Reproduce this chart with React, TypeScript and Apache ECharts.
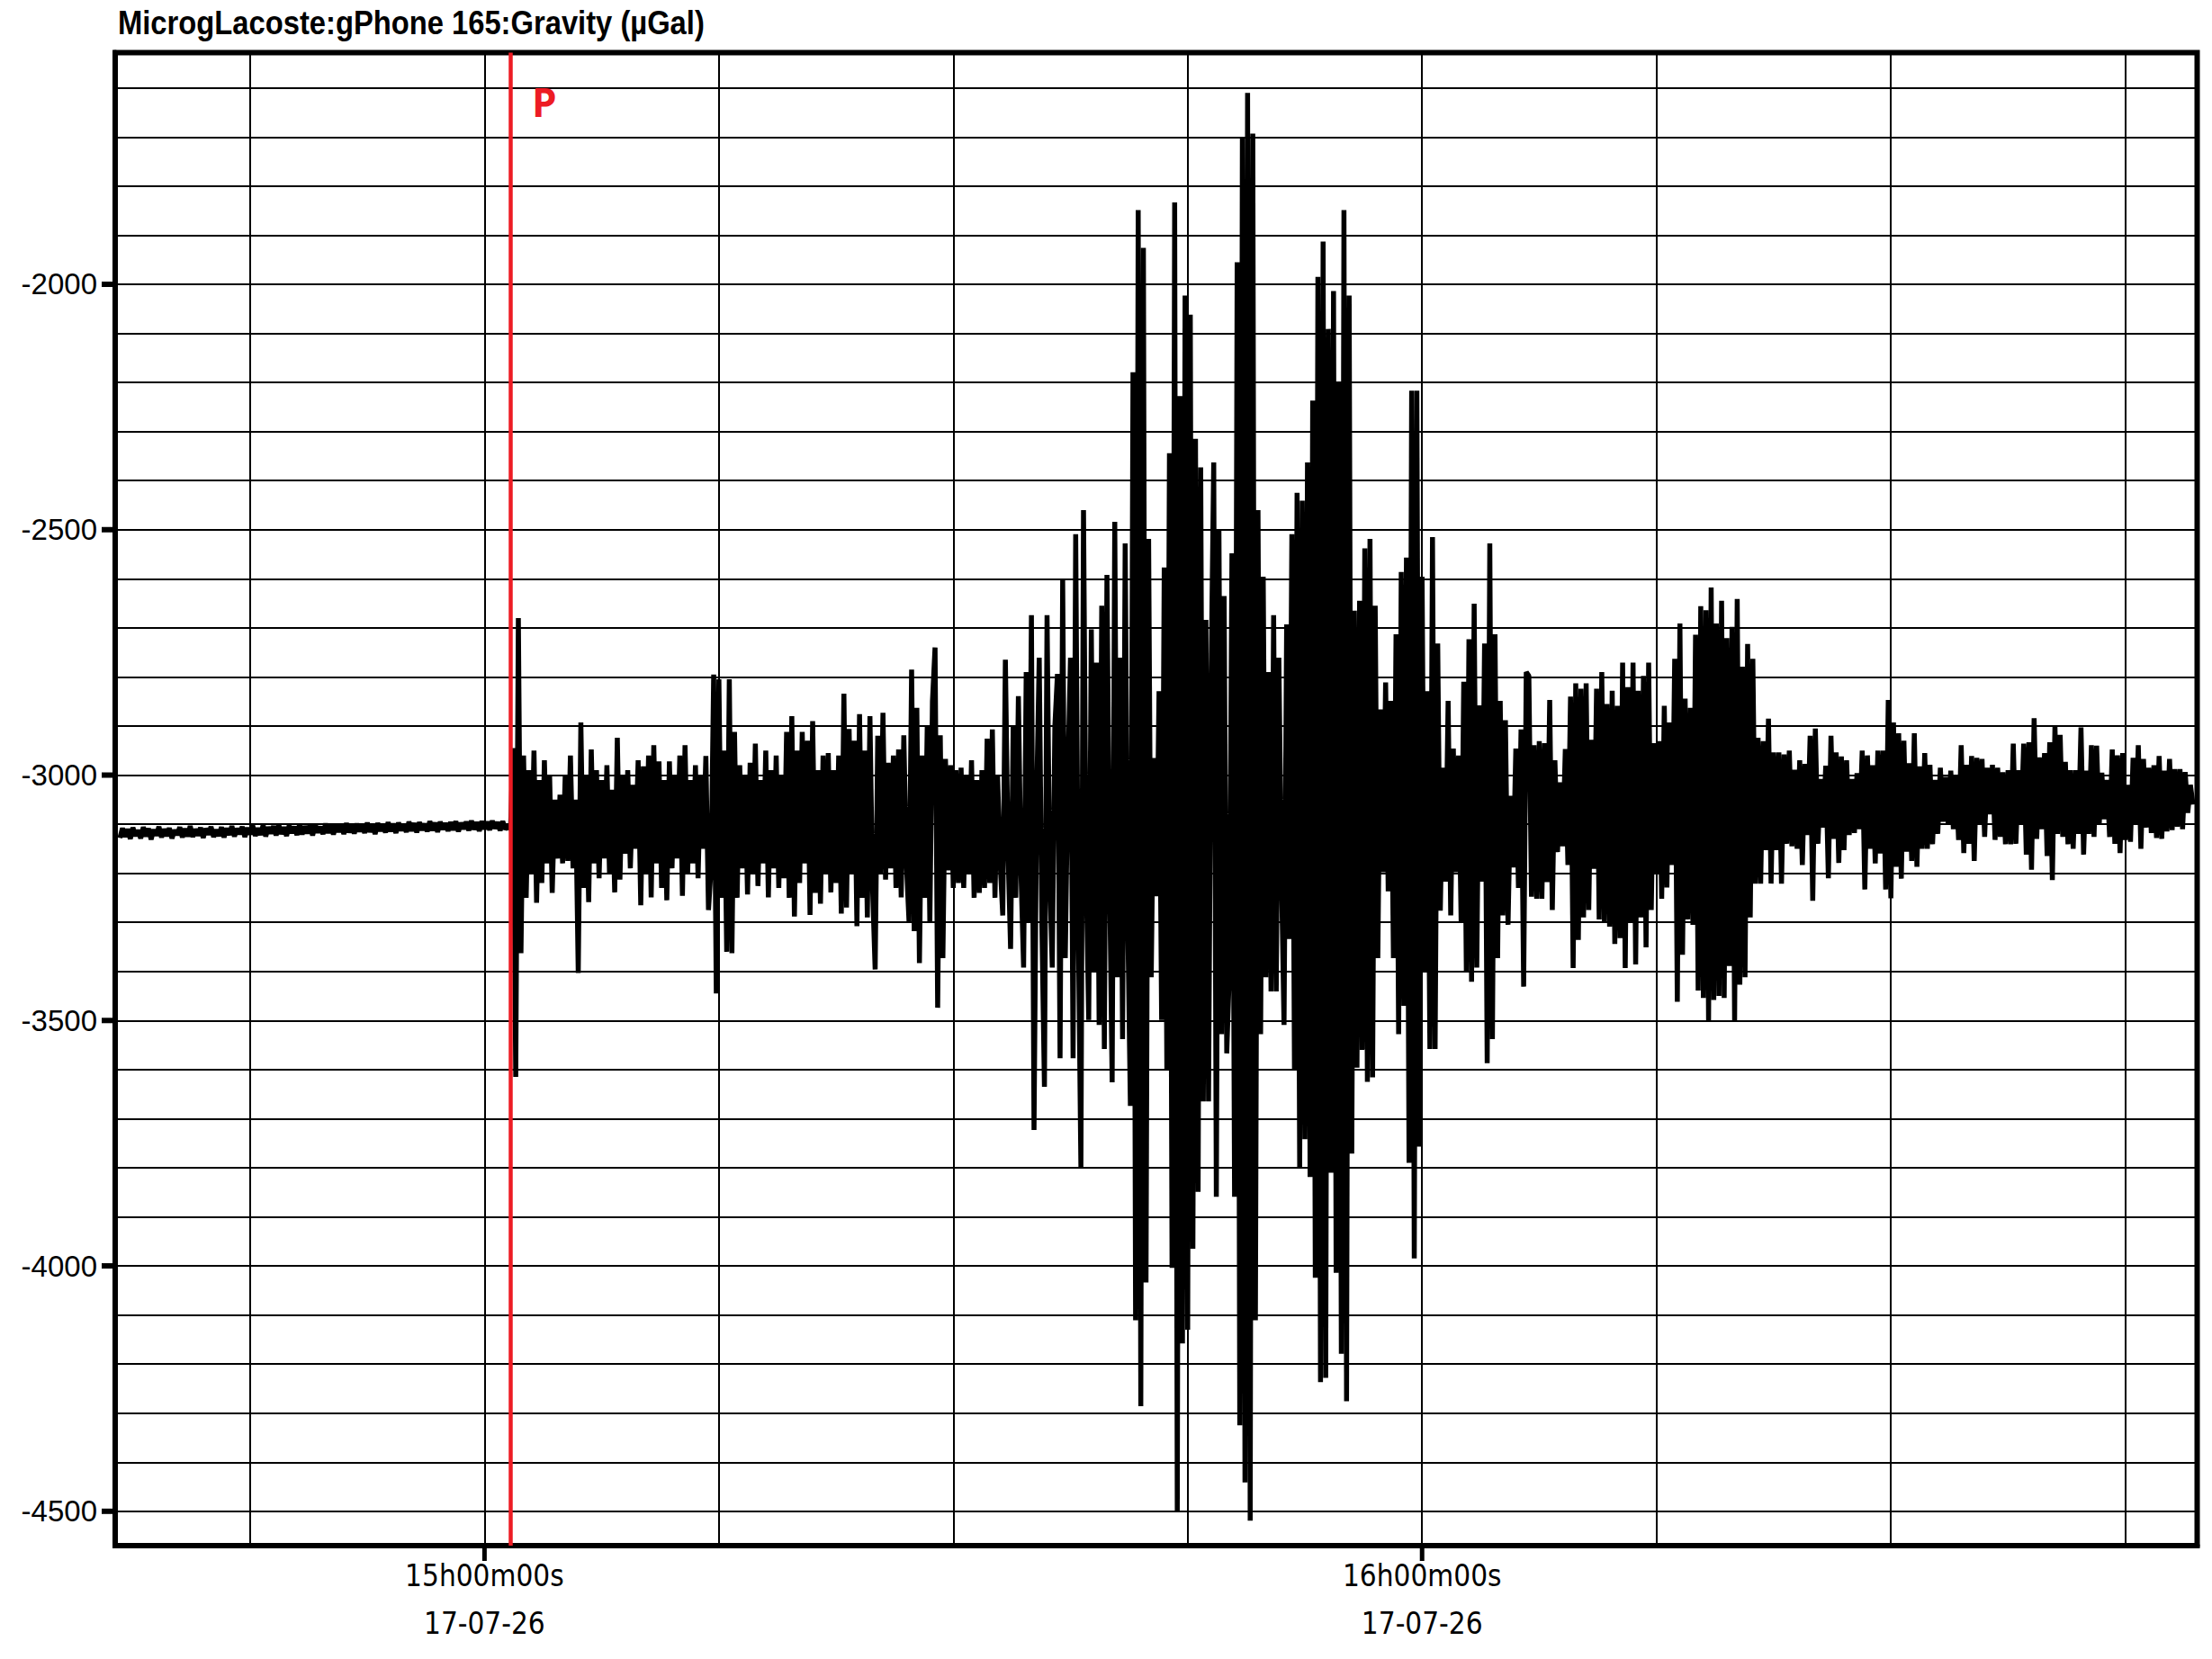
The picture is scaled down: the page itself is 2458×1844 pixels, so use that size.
import React, { useEffect, useRef } from "react";
import * as echarts from "echarts";

// ---------- texts ----------
const TITLE = "MicrogLacoste:gPhone 165:Gravity (µGal)";
const DATE_LABEL = "17-07-26";
const P_LABEL = "P";

// ---------- axes (x in seconds relative to 15h00m00s) ----------
const X_MIN = -1418;
const X_MAX = 6576;
const Y_MIN = -4570;
const Y_MAX = -1528;
const P_TIME = 101;

const xLabelTimes = [0, 3600];
const xLabelTexts = ["15h00m00s", "16h00m00s"];
const yLabelValues = [-4500, -4000, -3500, -3000, -2500, -2000];
const xGridValues = [-900, 0, 900, 1800, 2700, 3600, 4500, 5400, 6300];
const yGridValues = [
  -4500, -4400, -4300, -4200, -4100, -4000, -3900, -3800, -3700, -3600,
  -3500, -3400, -3300, -3200, -3100, -3000, -2900, -2800, -2700, -2600,
  -2500, -2400, -2300, -2200, -2100, -2000, -1900, -1800, -1700, -1600,
];

// ---------- gravity trace (µGal) ----------
const PRE_START = -1400; // s, sampling step 10 s
const PRE_STEP = 10;
const preEventValues = [
  -3128, -3108, -3126, -3110, -3130, -3107, -3124, -3112, -3129, -3106,
  -3125, -3109, -3131, -3111, -3123, -3105, -3127, -3110, -3124, -3108,
  -3129, -3112, -3122, -3106, -3127, -3109, -3125, -3104, -3126, -3110,
  -3123, -3107, -3128, -3109, -3121, -3105, -3126, -3111, -3124, -3106,
  -3127, -3108, -3122, -3104, -3125, -3109, -3120, -3105, -3126, -3107,
  -3121, -3103, -3124, -3108, -3122, -3102, -3125, -3106, -3119, -3104,
  -3123, -3101, -3120, -3106, -3124, -3103, -3118, -3105, -3122, -3100,
  -3121, -3104, -3119, -3102, -3123, -3101, -3117, -3105, -3120, -3099,
  -3118, -3102, -3121, -3100, -3116, -3103, -3120, -3098, -3117, -3101,
  -3119, -3099, -3115, -3102, -3118, -3097, -3116, -3100, -3120, -3098,
  -3114, -3101, -3117, -3096, -3115, -3099, -3118, -3097, -3113, -3100,
  -3116, -3095, -3114, -3098, -3117, -3096, -3112, -3099, -3115, -3094,
  -3113, -3097, -3116, -3095, -3111, -3098, -3114, -3096, -3112, -3094,
  -3115, -3097, -3110, -3095, -3113, -3093, -3111, -3096, -3114, -3094,
  -3110, -3095, -3112, -3093, -3109, -3096, -3113, -3094, -3110, -3105,
];

const EVENT_START = 100; // s, sampling step 10 s
const EVENT_STEP = 10;
const eventValues = [
  -3110, -2945, -3615, -2680, -3363, -2960, -3250, -2990, -3200, -2950,
  -3260, -3010, -3220, -2970, -3180, -3000, -3240, -3050, -3170, -3040,
  -3180, -3000, -3175, -2960, -3190, -3050, -3403, -2893, -3230, -3000,
  -3259, -2948, -3180, -2990, -3210, -3010, -3170, -2980, -3200, -3030,
  -3239, -2924, -3213, -3000, -3160, -2990, -3190, -3020, -3150, -2970,
  -3265, -2982, -3200, -2960, -3249, -2939, -3180, -2972, -3230, -3010,
  -3255, -2972, -3190, -3000, -3170, -2960, -3246, -2939, -3200, -3010,
  -3180, -2980, -3210, -3000, -3150, -2961, -3275, -3190, -2795, -3445,
  -2805, -3250, -2950, -3360, -2805, -3363, -2912, -3250, -2980, -3190,
  -3000, -3243, -2975, -3200, -2936, -3226, -3010, -3180, -2950, -3249,
  -2990, -3190, -2960, -3230, -3000, -3210, -2912, -3250, -2880, -3288,
  -2950, -3220, -2912, -3180, -2930, -3285, -2890, -3240, -2990, -3262,
  -2960, -3200, -2955, -3239, -2990, -3220, -2960, -3282, -2834, -3270,
  -2906, -3200, -2930, -3308, -2876, -3250, -2950, -3290, -2880, -3230,
  -3396, -2920, -3200, -2873, -3213, -2975, -3190, -2960, -3230, -2948,
  -3249, -2919, -3180, -3298, -2785, -3318, -2863, -3383, -2960, -3250,
  -2900, -3300, -2850, -2740, -3474, -2919, -3373, -2967, -3194, -2980,
  -3230, -2990, -3220, -2985, -3230, -3000, -3200, -2970, -3250, -3010,
  -3240, -2990, -3230, -2926, -3220, -2907, -3250, -3000, -3180, -3286,
  -2765, -3150, -3354, -2900, -3250, -2839, -3200, -3392, -2790, -3300,
  -2674, -3723, -3050, -2761, -3300, -3635, -2674, -3200, -3392, -2900,
  -2794, -3577, -2602, -3373, -3000, -2761, -3577, -2509, -3300, -3800,
  -2460, -3200, -3499, -2703, -3402, -2771, -3509, -2655, -3558, -2592,
  -3200, -3626, -2484, -3412, -2761, -3538, -2528, -3300, -3674, -2179,
  -4111, -1849, -4286, -1926, -4034, -2519, -3412, -2965, -3247, -2829,
  -3499, -2577, -3600, -2344, -4004, -1833, -4499, -2228, -4158, -2023,
  -4130, -2062, -3965, -2315, -3849, -2373, -3665, -2684, -3665, -2800,
  -2363, -3859, -2499, -3528, -2635, -3567, -3400, -2548, -3859, -1955,
  -4325, -1703, -4441, -1610, -4519, -1693, -4111, -2460, -3528, -2596,
  -3412, -2790, -3441, -2674, -3441, -2761, -3198, -3509, -2693, -3334,
  -2509, -3600, -2425, -3800, -2441, -3742, -2363, -3819, -2237, -4024,
  -1985, -4237, -1913, -4228, -2091, -3810, -2014, -4014, -2200, -4179,
  -1849, -4276, -2023, -3771, -2665, -3596, -2645, -3560, -2538, -3625,
  -2519, -3616, -2655, -3373, -2866, -3198, -2811, -3237, -2849, -3373,
  -2713, -3528, -2586, -3470, -2557, -3790, -2217, -3985, -2217, -3757,
  -2596, -3402, -2829, -3558, -2515, -3558, -2732, -3276, -2985, -3217,
  -2849, -3286, -2946, -3198, -2960, -3300, -2810, -3402, -2723, -3421,
  -2651, -3392, -2858, -3217, -2732, -3587, -2528, -3538, -2713, -3373,
  -2849, -3286, -2888, -3305, -3042, -3188, -2946, -3230, -2907, -3431,
  -2790, -2798, -3248, -2939, -3252, -2931, -3252, -2935, -3218, -2847,
  -3275, -2970, -3157, -3015, -3145, -2947, -3183, -2840, -3393, -2813,
  -3336, -2824, -3290, -2813, -3275, -2928, -3191, -2824, -3294, -2790,
  -3298, -2855, -3309, -2828, -3344, -2859, -3332, -2771, -3393, -2821,
  -3300, -2771, -3386, -2828, -3290, -2798, -3351, -2771, -3275, -2935,
  -3202, -2931, -3252, -2859, -3229, -2893, -3183, -2763, -3462, -2691,
  -3366, -2844, -3294, -2863, -3305, -2714, -3439, -2656, -3454, -2664,
  -3500, -2618, -3458, -2691, -3450, -2645, -3454, -2721, -3389, -2698,
  -3500, -2641, -3427, -2779, -3412, -2733, -3290, -2763, -3221, -2924,
  -3221, -2931, -3153, -2885, -3221, -2954, -3153, -2954, -3221, -2958,
  -3140, -2950, -3145, -2989, -3150, -2970, -3183, -2977, -3122, -2920,
  -3256, -2905, -3140, -3008, -3107, -2981, -3210, -2920, -3130, -2954,
  -3179, -2962, -3153, -2970, -3122, -3008, -3118, -2996, -3110, -2950,
  -3233, -2960, -3150, -2980, -3180, -2950, -3160, -2950, -3233, -2847,
  -3251, -2893, -3187, -2915, -3211, -2930, -3156, -2976, -3175, -2915,
  -3187, -2982, -3150, -2955, -3150, -2979, -3141, -3010, -3120, -2985,
  -3095, -3004, -3100, -2991, -3110, -3000, -3132, -2939, -3159, -2979,
  -3140, -2961, -3175, -2965, -3100, -2967, -3126, -2985, -3080, -2979,
  -3132, -2985, -3126, -2994, -3141, -2990, -3141, -2936, -3140, -2990,
  -3100, -2936, -3162, -2933, -3193, -2884, -3130, -2964, -3110, -2955,
  -3165, -2933, -3214, -2900, -3120, -2918, -3126, -2973, -3141, -2990,
  -3150, -2990, -3120, -2903, -3162, -2991, -3120, -2939, -3126, -2940,
  -3100, -2995, -3090, -3010, -3126, -2948, -3140, -2960, -3159, -2955,
  -3132, -3020, -3136, -2965, -3100, -2939, -3150, -2967, -3107, -2985,
  -3118, -2980, -3128, -2961, -3130, -2991, -3115, -2967, -3112, -2988,
  -3105, -2988, -3110, -2994, -3077, -3020, -3060,
];

const NARROW = "'Liberation Sans Narrow', 'Arial Narrow', 'DejaVu Sans Condensed', sans-serif";
const REGULAR = "'Liberation Sans', Arial, sans-serif";

export default function App() {
  const ref = useRef<HTMLDivElement>(null);

  useEffect(() => {
    if (!ref.current) return;
    const chart = echarts.init(ref.current, null, { renderer: "svg" });

    const trace = [
      ...preEventValues.map((v, i) => [PRE_START + i * PRE_STEP, v]),
      ...eventValues.map((v, i) => [EVENT_START + i * EVENT_STEP, v]),
    ];

    const gridLineData = [
      ...yGridValues.map((v) => ({ yAxis: v })),
      ...xGridValues.map((v) => ({ xAxis: v })),
    ];

    chart.setOption({
      animation: false,
      backgroundColor: "#ffffff",
      grid: {
        left: 128,
        right: 16.5,
        top: 58.5,
        bottom: 126,
        show: true,
        borderColor: "#000",
        borderWidth: 6,
        backgroundColor: "#fff",
        containLabel: false,
      },
      xAxis: {
        type: "value",
        min: X_MIN,
        max: X_MAX,
        position: "bottom",
        axisLine: { show: true, onZero: false, lineStyle: { color: "#000", width: 6 } },
        splitLine: { show: false },
        axisTick: { show: false },
        axisLabel: {
          show: true,
          customValues: xLabelTimes,
          // a small black block on the first row acts as the outward tick mark
          formatter: (v: number) => {
            const idx = xLabelTimes.indexOf(v);
            return idx >= 0 ? `{t|}\n{a|${xLabelTexts[idx]}}\n{b|${DATE_LABEL}}` : "";
          },
          margin: 0,
          align: "center",
          rich: {
            t: { width: 5, height: 17, lineHeight: 17, backgroundColor: "#000" },
            a: { fontFamily: NARROW, fontSize: 33, lineHeight: 32, color: "#000" },
            b: { fontFamily: NARROW, fontSize: 33, lineHeight: 74, color: "#000" },
          },
          color: "#000",
        },
      },
      yAxis: {
        type: "value",
        min: Y_MIN,
        max: Y_MAX,
        position: "left",
        axisLine: { show: true, onZero: false, lineStyle: { color: "#000", width: 6 } },
        splitLine: { show: false },
        axisTick: { show: false },
        axisLabel: {
          show: true,
          customValues: yLabelValues,
          // label text, a gap, then a black block acting as the outward tick mark
          formatter: (v: number) => (yLabelValues.indexOf(v) >= 0 ? `{n|${v}}{g|}{t|}` : ""),
          margin: 0,
          rich: {
            n: { fontFamily: REGULAR, fontSize: 33, color: "#000", verticalAlign: "middle" },
            g: { width: 5, height: 6 },
            t: { width: 15, height: 6, backgroundColor: "#000", verticalAlign: "middle" },
          },
          color: "#000",
        },
      },
      graphic: [
        {
          type: "text",
          x: 131,
          y: 6,
          scaleX: 0.885,
          z: 100,
          silent: true,
          style: {
            text: TITLE,
            fill: "#000",
            font: "bold 37px 'Liberation Sans', Arial, sans-serif",
            align: "left",
            verticalAlign: "top",
          },
        },
        {
          type: "text",
          left: 591,
          top: 91,
          z: 100,
          silent: true,
          style: {
            text: P_LABEL,
            fill: "#ED1C24",
            font: "bold 44px 'Open Sans', 'Liberation Sans', sans-serif",
          },
        },
      ],
      series: [
        {
          name: "grid",
          type: "line",
          data: [],
          z: 1,
          silent: true,
          markLine: {
            silent: true,
            symbol: ["none", "none"],
            label: { show: false },
            emphasis: { disabled: true },
            lineStyle: { color: "#000", width: 2, type: "solid" },
            data: gridLineData,
          },
        },
        {
          name: "gravity",
          type: "line",
          data: trace,
          z: 3,
          showSymbol: false,
          symbol: "none",
          clip: true,
          silent: true,
          lineStyle: { color: "#000", width: 5.5, join: "bevel" },
        },
        {
          name: "P",
          type: "line",
          data: [],
          z: 5,
          silent: true,
          markLine: {
            silent: true,
            symbol: ["none", "none"],
            label: { show: false },
            emphasis: { disabled: true },
            lineStyle: { color: "#ED1C24", width: 4.5, type: "solid" },
            data: [{ xAxis: P_TIME }],
          },
        },
      ],
    });

    return () => chart.dispose();
  }, []);

  return (
    <div
      ref={ref}
      style={{ position: "absolute", left: 0, top: 0, width: 2458, height: 1844, background: "#fff" }}
    />
  );
}
